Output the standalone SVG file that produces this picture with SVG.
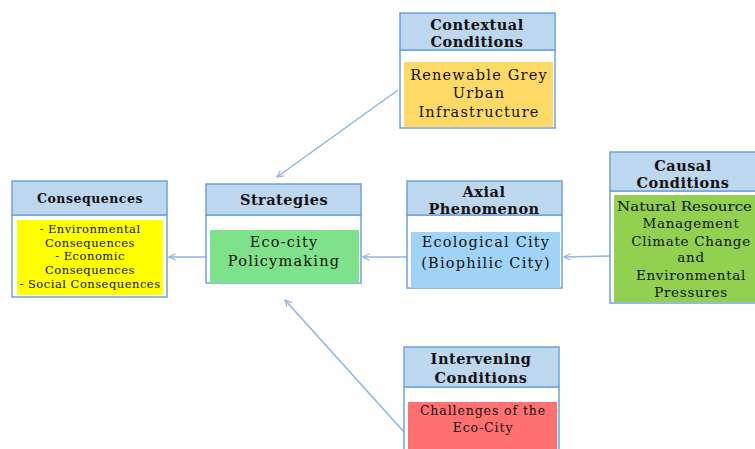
<svg xmlns="http://www.w3.org/2000/svg" width="755" height="449" viewBox="0 0 755 449">
<style>
.hdr{fill:#bdd7ee;stroke:#6fa3dc;stroke-width:1.5}
.bdy{fill:#ffffff;stroke:#6fa3dc;stroke-width:1.5}
.ht{font-family:"DejaVu Serif",serif;font-weight:bold;font-size:14.5px;fill:#111;text-anchor:middle;letter-spacing:0.5px}
.bt{font-family:"DejaVu Serif",serif;font-size:14.5px;fill:#111;text-anchor:middle;letter-spacing:1.2px}
.st{font-family:"DejaVu Serif",serif;font-size:11.5px;fill:#111;text-anchor:middle;letter-spacing:0.5px}
.ct{font-family:"DejaVu Serif",serif;font-size:13.5px;fill:#111;text-anchor:middle;letter-spacing:0.7px}
.con{stroke:#8fb4e0;stroke-width:1.5;fill:none}
</style>
<defs>
<marker id="ah" viewBox="0 0 10 10" refX="9" refY="5" markerWidth="8" markerHeight="8" orient="auto" markerUnits="userSpaceOnUse">
<path d="M1,1 L9,5 L1,9" fill="none" stroke="#8fb4e0" stroke-width="1.5"/>
</marker>
</defs>
<rect width="755" height="449" fill="#ffffff"/>
<g id="connectors">
<line class="con" x1="398" y1="90" x2="277" y2="177" marker-end="url(#ah)"/>
<line class="con" x1="407" y1="257" x2="363" y2="257" marker-end="url(#ah)"/>
<line class="con" x1="206" y1="257" x2="169" y2="257" marker-end="url(#ah)"/>
<line class="con" x1="610" y1="256" x2="564" y2="257" marker-end="url(#ah)"/>
<line class="con" x1="404" y1="432" x2="285" y2="300" marker-end="url(#ah)"/>
</g>
<g id="contextual">
<rect class="bdy" x="400" y="50" width="155" height="78"/>
<rect class="hdr" x="400" y="13" width="155" height="37"/>
<text class="ht" x="477" y="30">Contextual</text>
<text class="ht" x="477" y="47">Conditions</text>
<rect x="404" y="62" width="149" height="65" fill="#ffd966"/>
<text class="bt" x="479" y="80">Renewable Grey</text>
<text class="bt" x="479" y="98">Urban</text>
<text class="bt" x="479" y="117">Infrastructure</text>
</g>
<g id="consequences">
<rect class="bdy" x="12" y="215" width="155" height="82"/>
<rect class="hdr" x="12" y="181" width="155" height="34"/>
<text class="ht" x="90" y="203" style="font-size:12.5px">Consequences</text>
<rect x="17" y="220" width="146" height="75" fill="#ffff00"/>
<text class="st" x="90" y="233">- Environmental</text>
<text class="st" x="90" y="247">Consequences</text>
<text class="st" x="90" y="260">- Economic</text>
<text class="st" x="90" y="274">Consequences</text>
<text class="st" x="90" y="288">- Social Consequences</text>
</g>
<g id="strategies">
<rect class="bdy" x="206" y="215" width="155" height="68"/>
<rect class="hdr" x="206" y="184" width="155" height="31"/>
<text class="ht" x="284" y="205">Strategies</text>
<rect x="210" y="230" width="149" height="53" fill="#7ee28a"/>
<text class="bt" x="284" y="247">Eco-city</text>
<text class="bt" x="284" y="266">Policymaking</text>
</g>
<g id="axial">
<rect class="bdy" x="407" y="215" width="155" height="73"/>
<rect class="hdr" x="407" y="181" width="155" height="34"/>
<text class="ht" x="484" y="197">Axial</text>
<text class="ht" x="484" y="214">Phenomenon</text>
<rect x="411" y="232" width="149" height="56" fill="#9fd3f7"/>
<text class="bt" x="486" y="247">Ecological City</text>
<text class="bt" x="486" y="268">(Biophilic City)</text>
</g>
<g id="causal">
<rect class="bdy" x="610" y="191" width="150" height="112"/>
<rect class="hdr" x="610" y="152" width="150" height="39"/>
<text class="ht" x="683" y="171">Causal</text>
<text class="ht" x="683" y="188">Conditions</text>
<rect x="614" y="195" width="146" height="107" fill="#92d050"/>
<text class="ct" x="617" y="211" style="text-anchor:start;letter-spacing:0px" textLength="135" lengthAdjust="spacingAndGlyphs">Natural Resource</text>
<text class="ct" x="691" y="228">Management</text>
<text class="ct" x="691" y="246">Climate Change</text>
<text class="ct" x="691" y="262">and</text>
<text class="ct" x="691" y="280">Environmental</text>
<text class="ct" x="691" y="297">Pressures</text>
</g>
<g id="intervening">
<rect class="bdy" x="404" y="387" width="155" height="70"/>
<rect class="hdr" x="404" y="347" width="155" height="40"/>
<text class="ht" x="481" y="364">Intervening</text>
<text class="ht" x="481" y="383">Conditions</text>
<rect x="408" y="402" width="149" height="47" fill="#ff7171"/>
<text class="bt" x="483" y="415" style="font-size:12.5px;letter-spacing:0.9px">Challenges of the</text>
<text class="bt" x="483" y="432" style="font-size:12.5px;letter-spacing:0.9px">Eco-City</text>
</g>
</svg>
